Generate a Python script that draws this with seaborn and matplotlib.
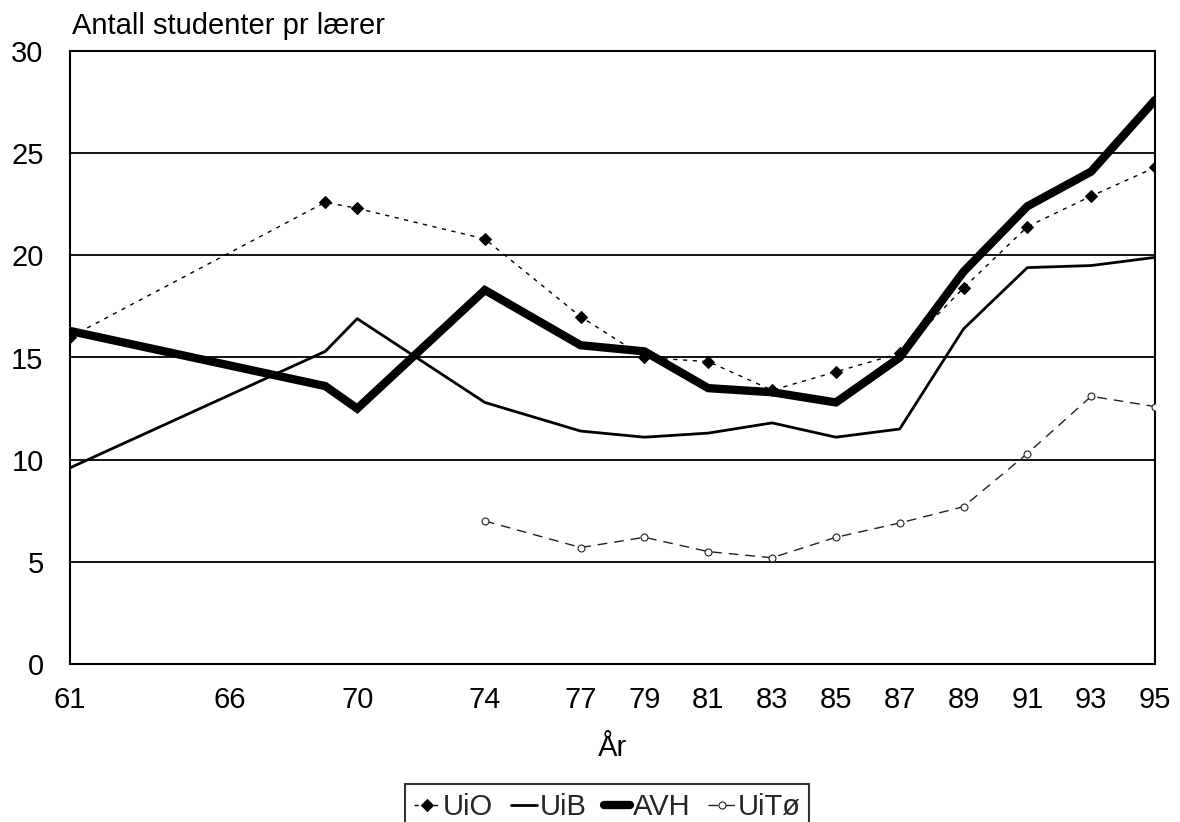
import matplotlib
matplotlib.use("Agg")
import matplotlib.pyplot as plt
import seaborn as sns

years = [61, 69, 70, 74, 77, 79, 81, 83, 85, 87, 89, 91, 93, 95]
uio = [16.0, 22.6, 22.3, 20.8, 17.0, 15.0, 14.8, 13.4, 14.3, 15.2, 18.4, 21.4, 22.9, 24.3]
uib = [9.6, 15.3, 16.9, 12.8, 11.4, 11.1, 11.3, 11.8, 11.1, 11.5, 16.4, 19.4, 19.5, 19.9]
avh = [16.3, 13.6, 12.5, 18.3, 15.6, 15.3, 13.5, 13.3, 12.8, 15.0, 19.2, 22.4, 24.1, 27.6]
years_uit = [74, 77, 79, 81, 83, 85, 87, 89, 91, 93, 95]
uit = [7.0, 5.7, 6.2, 5.5, 5.2, 6.2, 6.9, 7.7, 10.3, 13.1, 12.6]

xticks = [61, 66, 70, 74, 77, 79, 81, 83, 85, 87, 89, 91, 93, 95]
yticks = [0, 5, 10, 15, 20, 25, 30]

sns.set_theme(style="white")
narrow = ['Liberation Sans Narrow', 'Liberation Sans', 'DejaVu Sans']
plt.rcParams['font.family'] = narrow

fig = plt.figure(figsize=(11.8, 8.22), dpi=100)
ax = fig.add_axes([70 / 1180, 1 - 664 / 822, (1155 - 70) / 1180, (664 - 51) / 822])

for y in yticks[1:-1]:
    ax.axhline(y, color='black', lw=1.3, zorder=1)

sns.lineplot(x=years, y=uio, ax=ax, color='black', lw=1.0, linestyle=(0, (3, 4)),
             marker='D', markersize=6.5, markeredgecolor='black', label='UiO', zorder=4)
sns.lineplot(x=years, y=uib, ax=ax, color='black', lw=2.0, label='UiB', zorder=3)
sns.lineplot(x=years, y=avh, ax=ax, color='black', lw=6.0, label='AVH', zorder=3,
             solid_joinstyle='miter')
sns.lineplot(x=years_uit, y=uit, ax=ax, color='#222222', lw=1.0, linestyle=(0, (7, 5)),
             marker='o', markersize=5, markerfacecolor='white', markeredgecolor='#222222',
             markeredgewidth=0.8, label='UiTø', zorder=4)

ax.set_xlim(61, 95)
ax.set_ylim(0, 30)
ax.set_xticks(xticks)
ax.set_xticklabels([str(t) for t in xticks])
ax.set_yticks(yticks)
ax.set_yticklabels([str(t) for t in yticks])
ax.tick_params(axis='both', length=0, labelsize=21, colors='black')
ax.tick_params(axis='x', pad=16)
ax.tick_params(axis='y', pad=19)
for s in ax.spines.values():
    s.set_visible(True)
    s.set_color('black')
    s.set_linewidth(1.5)
ax.set_ylabel('')
ax.set_xlabel('År', fontsize=21, color='black', labelpad=14)

fig.text(72 / 1180, 1 - 26 / 822, 'Antall studenter pr lærer', fontsize=21,
         va='center', ha='left', color='black',
         family=['Liberation Sans', 'DejaVu Sans'])

ax.get_legend().remove()
h, l = ax.get_legend_handles_labels()
leg = fig.legend(h, l, loc='upper left', bbox_to_anchor=(405 / 1180, 1 - 784 / 822),
                 ncol=4, frameon=True, fancybox=False, edgecolor='black', fontsize=21,
                 handlelength=0.9, handletextpad=0.1, columnspacing=0.6,
                 borderpad=0.3, borderaxespad=0)
leg.get_frame().set_linewidth(1.5)

fig.savefig('out.png', dpi=100, facecolor='white')
